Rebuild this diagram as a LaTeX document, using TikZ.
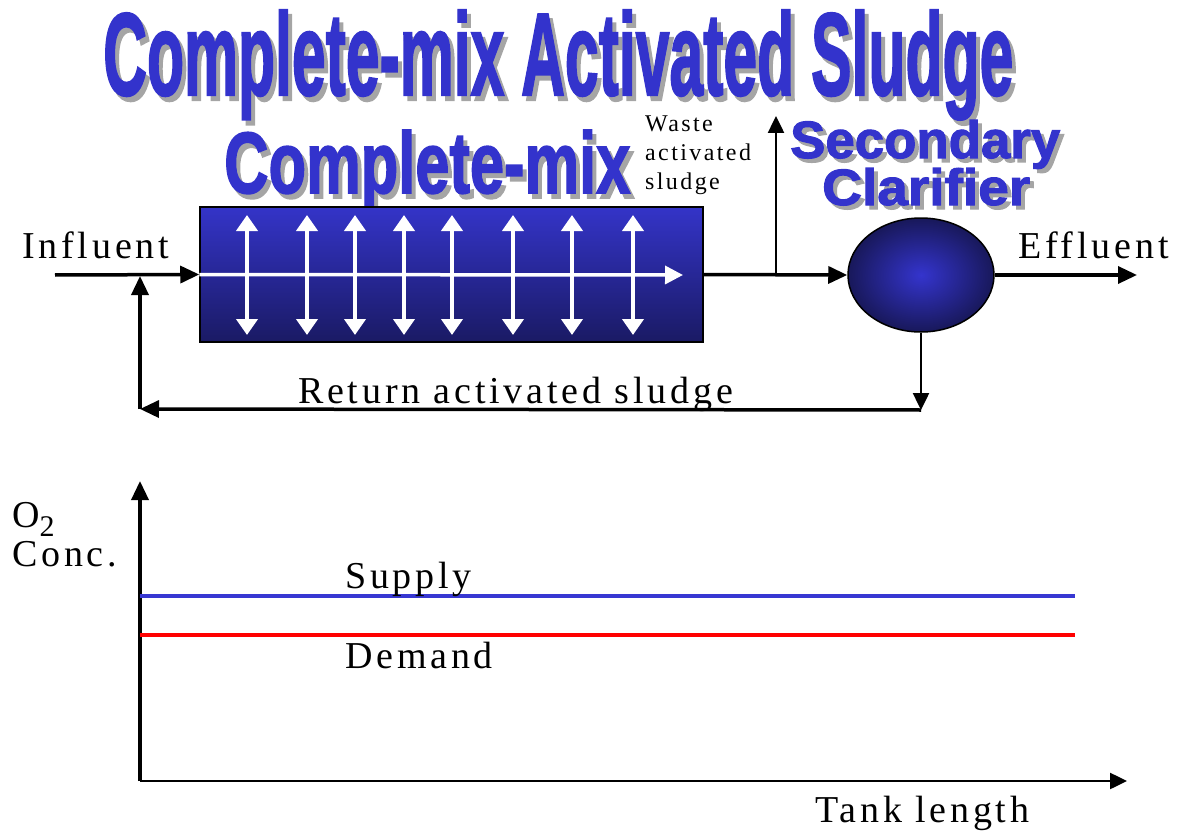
\documentclass[tikz,border=0pt]{standalone}
\usepackage{fontspec}
\setmainfont{Liberation Serif}
\newfontfamily\labelfont[LetterSpace=10]{Liberation Serif}
\newfontfamily\headfont[BoldFeatures={FakeBold=2}]{Liberation Sans}
\usetikzlibrary{arrows.meta,shapes.geometric}
\definecolor{titleblue}{RGB}{51,51,204}
\definecolor{shadowgray}{RGB}{165,165,165}
\definecolor{tanktop}{RGB}{52,52,200}
\definecolor{tankbottom}{RGB}{26,26,100}
\definecolor{clarinner}{RGB}{52,52,205}
\definecolor{clarouter}{RGB}{24,24,90}
\definecolor{supplyblue}{RGB}{55,55,210}
\definecolor{demandred}{RGB}{255,0,0}
\newcommand{\headtext}[3]{\resizebox{#1}{#2}{\headfont\bfseries #3}}
\tikzset{
  flow/.style={-{Triangle[length=19pt,width=17pt]}, line width=3.5pt},
  thinflow/.style={-{Triangle[length=17pt,width=16pt]}, line width=2.5pt},
  mixarrow/.style={{Triangle[length=16pt,width=21pt]}-{Triangle[length=16pt,width=21pt]}, line width=4pt, white},
  headline/.style={inner sep=0pt, anchor=base west, text=titleblue},
  headshadow/.style={headline, text=shadowgray},
  label/.style={font=\labelfont\fontsize{38}{44}\selectfont, inner sep=0pt, anchor=base west},
  smalllabel/.style={font=\labelfont\fontsize{24}{29}\selectfont, inner sep=0pt, align=left, anchor=north west},
  level/.style={line width=3.5pt},
}

\begin{document}
\begin{tikzpicture}[x=1pt, y=-1pt]
\useasboundingbox (0,0) rectangle (1184,832);

% headings
\node[headshadow] (titleshadow) at (107,100) {\headtext{910pt}{85pt}{Complete-mix Activated Sludge}};
\node[headline] (title) at (103,95) {\headtext{910pt}{85pt}{Complete-mix Activated Sludge}};
\node[headshadow] (mixshadow) at (228,198) {\headtext{406pt}{63pt}{Complete-mix}};
\node[headline] (mixhead) at (224,193) {\headtext{406pt}{63pt}{Complete-mix}};
\node[headshadow] (secshadow) at (794,162) {\headtext{270pt}{38pt}{Secondary}};
\node[headline] (sechead) at (790,158) {\headtext{270pt}{38pt}{Secondary}};
\node[headshadow] (clarshadow) at (826,209) {\headtext{208pt}{37pt}{Clarifier}};
\node[headline] (clarhead) at (822,205) {\headtext{208pt}{37pt}{Clarifier}};

% process units
\node[draw=black, line width=1.5pt, top color=tanktop, bottom color=tankbottom,
      minimum width=503pt, minimum height=135pt, inner sep=0pt] (tank) at (451.5,274.5) {};
\node[ellipse, draw=black, line width=1.5pt, inner color=clarinner, outer color=clarouter,
      minimum width=146pt, minimum height=114pt, inner sep=0pt] (clar) at (921,275) {};

% mixing inside the tank
\coordinate (mixend) at (683,275);
\draw[-{Triangle[length=18pt,width=18pt]}, line width=3.5pt, white] (tank.west) -- (mixend);
\foreach \x in {247,307,355,404,452,513,572,633}
  \draw[mixarrow] (\x,215) -- (\x,335);

% flow lines
\coordinate (inf) at (55,275);
\coordinate (wastejoin) at (776,275);
\coordinate (wastetop) at (776,116);
\coordinate (eff) at (1137,275);
\coordinate (retdown) at (921,410);
\coordinate (retcorner) at (140,409);
\coordinate (retjoin) at (140,276);
\draw[flow] (inf) -- (tank.west);
\draw[flow] (tank.east) -- (clar.west);
\draw[thinflow] (wastejoin) -- (wastetop);
\draw[flow] (clar.east) -- (eff);
\draw[thinflow] (clar.south) -- (retdown);
\draw[flow] (retdown) -- (retcorner);
\draw[flow] (retcorner) -- (retjoin);

% labels
\node[label] (influent) at (22,258) {Influent};
\node[label] (effluent) at (1018,258) {Effluent};
\node[label] (return) at (298,403) {Return activated sludge};
\node[smalllabel] (waste) at (645,116) {Waste\\activated\\sludge};

% oxygen profile
\coordinate (origin) at (140,781);
\coordinate (ytop) at (140,481);
\coordinate (xend) at (1127,781);
\draw[flow] (origin) -- (ytop);
\draw[thinflow] (origin) -- (xend);
\coordinate (supplyL) at (140,596);
\coordinate (supplyR) at (1075,596);
\coordinate (demandL) at (140,635);
\coordinate (demandR) at (1075,635);
\draw[level, supplyblue] (supplyL) -- (supplyR);
\draw[level, demandred] (demandL) -- (demandR);

\node[label] (o2) at (12,527) {O\raisebox{-9pt}{\fontsize{30}{30}\selectfont 2}};
\node[label] (conc) at (12,566) {Conc.};
\node[label] (supply) at (345,588) {Supply};
\node[label] (demand) at (345,668) {Demand};
\node[label] (tanklen) at (815,822) {Tank length};
\end{tikzpicture}
\end{document}
